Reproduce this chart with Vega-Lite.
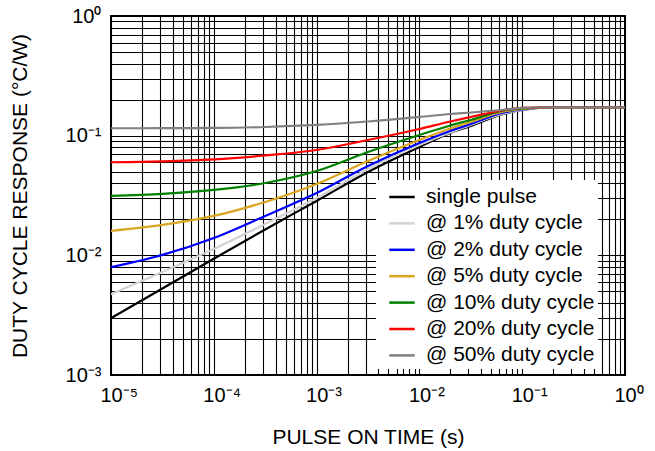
{
  "$schema": "https://vega.github.io/schema/vega-lite/v6.json",
  "width": 514,
  "height": 359,
  "autosize": {"type": "none"},
  "padding": {"left": 111, "top": 16, "right": 30, "bottom": 76},
  "background": "white",
  "config": {"view": {"stroke": "black", "strokeWidth": 2}, "font": "Liberation Sans"},
  "data": {"values": [
    {"s": "single pulse", "t": 0.00001, "z": 0.002982},
    {"s": "single pulse", "t": 0.000031623, "z": 0.00529},
    {"s": "single pulse", "t": 0.0001, "z": 0.009367},
    {"s": "single pulse", "t": 0.00031623, "z": 0.01646},
    {"s": "single pulse", "t": 0.001, "z": 0.02848},
    {"s": "single pulse", "t": 0.0031623, "z": 0.04973},
    {"s": "single pulse", "t": 0.01, "z": 0.08047},
    {"s": "single pulse", "t": 0.019953, "z": 0.1054},
    {"s": "single pulse", "t": 0.031623, "z": 0.1205},
    {"s": "single pulse", "t": 0.063096, "z": 0.1503},
    {"s": "single pulse", "t": 0.1, "z": 0.1639},
    {"s": "single pulse", "t": 0.19953, "z": 0.1727},
    {"s": "single pulse", "t": 1, "z": 0.1727},
    {"s": "@ 1% duty cycle", "t": 0.00001, "z": 0.004732},
    {"s": "@ 1% duty cycle", "t": 0.000031623, "z": 0.007264},
    {"s": "@ 1% duty cycle", "t": 0.0001, "z": 0.01131},
    {"s": "@ 1% duty cycle", "t": 0.00031623, "z": 0.01829},
    {"s": "@ 1% duty cycle", "t": 0.001, "z": 0.03016},
    {"s": "@ 1% duty cycle", "t": 0.0031623, "z": 0.05269},
    {"s": "@ 1% duty cycle", "t": 0.01, "z": 0.0836},
    {"s": "@ 1% duty cycle", "t": 0.019953, "z": 0.1063},
    {"s": "@ 1% duty cycle", "t": 0.031623, "z": 0.1229},
    {"s": "@ 1% duty cycle", "t": 0.063096, "z": 0.1518},
    {"s": "@ 1% duty cycle", "t": 0.1, "z": 0.1639},
    {"s": "@ 1% duty cycle", "t": 0.19953, "z": 0.1727},
    {"s": "@ 1% duty cycle", "t": 1, "z": 0.1727},
    {"s": "@ 2% duty cycle", "t": 0.00001, "z": 0.007955},
    {"s": "@ 2% duty cycle", "t": 0.000031623, "z": 0.01008},
    {"s": "@ 2% duty cycle", "t": 0.0001, "z": 0.01398},
    {"s": "@ 2% duty cycle", "t": 0.00031623, "z": 0.02134},
    {"s": "@ 2% duty cycle", "t": 0.001, "z": 0.0332},
    {"s": "@ 2% duty cycle", "t": 0.0031623, "z": 0.05582},
    {"s": "@ 2% duty cycle", "t": 0.01, "z": 0.0869},
    {"s": "@ 2% duty cycle", "t": 0.019953, "z": 0.1095},
    {"s": "@ 2% duty cycle", "t": 0.031623, "z": 0.1252},
    {"s": "@ 2% duty cycle", "t": 0.063096, "z": 0.1547},
    {"s": "@ 2% duty cycle", "t": 0.1, "z": 0.1655},
    {"s": "@ 2% duty cycle", "t": 0.19953, "z": 0.1727},
    {"s": "@ 2% duty cycle", "t": 1, "z": 0.1727},
    {"s": "@ 5% duty cycle", "t": 0.00001, "z": 0.01599},
    {"s": "@ 5% duty cycle", "t": 0.000031623, "z": 0.01794},
    {"s": "@ 5% duty cycle", "t": 0.0001, "z": 0.02134},
    {"s": "@ 5% duty cycle", "t": 0.00031623, "z": 0.02793},
    {"s": "@ 5% duty cycle", "t": 0.001, "z": 0.03949},
    {"s": "@ 5% duty cycle", "t": 0.0031623, "z": 0.06145},
    {"s": "@ 5% duty cycle", "t": 0.01, "z": 0.09206},
    {"s": "@ 5% duty cycle", "t": 0.019953, "z": 0.1149},
    {"s": "@ 5% duty cycle", "t": 0.031623, "z": 0.1301},
    {"s": "@ 5% duty cycle", "t": 0.063096, "z": 0.1578},
    {"s": "@ 5% duty cycle", "t": 0.1, "z": 0.1671},
    {"s": "@ 5% duty cycle", "t": 0.19953, "z": 0.1727},
    {"s": "@ 5% duty cycle", "t": 1, "z": 0.1727},
    {"s": "@ 10% duty cycle", "t": 0.00001, "z": 0.03134},
    {"s": "@ 10% duty cycle", "t": 0.000031623, "z": 0.03258},
    {"s": "@ 10% duty cycle", "t": 0.0001, "z": 0.03518},
    {"s": "@ 10% duty cycle", "t": 0.00031623, "z": 0.04025},
    {"s": "@ 10% duty cycle", "t": 0.001, "z": 0.0507},
    {"s": "@ 10% duty cycle", "t": 0.0031623, "z": 0.07306},
    {"s": "@ 10% duty cycle", "t": 0.01, "z": 0.1013},
    {"s": "@ 10% duty cycle", "t": 0.019953, "z": 0.1217},
    {"s": "@ 10% duty cycle", "t": 0.031623, "z": 0.1353},
    {"s": "@ 10% duty cycle", "t": 0.063096, "z": 0.1608},
    {"s": "@ 10% duty cycle", "t": 0.1, "z": 0.1687},
    {"s": "@ 10% duty cycle", "t": 0.19953, "z": 0.1727},
    {"s": "@ 10% duty cycle", "t": 1, "z": 0.1727},
    {"s": "@ 20% duty cycle", "t": 0.00001, "z": 0.05995},
    {"s": "@ 20% duty cycle", "t": 0.000031623, "z": 0.06088},
    {"s": "@ 20% duty cycle", "t": 0.0001, "z": 0.06326},
    {"s": "@ 20% duty cycle", "t": 0.00031623, "z": 0.06833},
    {"s": "@ 20% duty cycle", "t": 0.001, "z": 0.07595},
    {"s": "@ 20% duty cycle", "t": 0.0031623, "z": 0.09206},
    {"s": "@ 20% duty cycle", "t": 0.01, "z": 0.1138},
    {"s": "@ 20% duty cycle", "t": 0.019953, "z": 0.1314},
    {"s": "@ 20% duty cycle", "t": 0.031623, "z": 0.1433},
    {"s": "@ 20% duty cycle", "t": 0.063096, "z": 0.1624},
    {"s": "@ 20% duty cycle", "t": 0.1, "z": 0.1704},
    {"s": "@ 20% duty cycle", "t": 0.19953, "z": 0.1727},
    {"s": "@ 20% duty cycle", "t": 1, "z": 0.1727},
    {"s": "@ 50% duty cycle", "t": 0.00001, "z": 0.1153},
    {"s": "@ 50% duty cycle", "t": 0.000031623, "z": 0.1155},
    {"s": "@ 50% duty cycle", "t": 0.0001, "z": 0.116},
    {"s": "@ 50% duty cycle", "t": 0.00031623, "z": 0.1182},
    {"s": "@ 50% duty cycle", "t": 0.001, "z": 0.1229},
    {"s": "@ 50% duty cycle", "t": 0.0031623, "z": 0.1314},
    {"s": "@ 50% duty cycle", "t": 0.01, "z": 0.1433},
    {"s": "@ 50% duty cycle", "t": 0.019953, "z": 0.1518},
    {"s": "@ 50% duty cycle", "t": 0.031623, "z": 0.1562},
    {"s": "@ 50% duty cycle", "t": 0.063096, "z": 0.1639},
    {"s": "@ 50% duty cycle", "t": 0.1, "z": 0.1704},
    {"s": "@ 50% duty cycle", "t": 0.19953, "z": 0.1727},
    {"s": "@ 50% duty cycle", "t": 1, "z": 0.1727}
  ]},
  "mark": {"type": "line", "strokeWidth": 2.2, "interpolate": "monotone", "clip": true},
  "encoding": {
    "x": {
      "field": "t", "type": "quantitative",
      "scale": {"type": "log", "domain": [0.00001, 1], "nice": false},
      "axis": {
        "title": "PULSE ON TIME (s)",
        "titleFontSize": 21, "titleFontWeight": "normal", "titleColor": "black", "titlePadding": 21,
        "values": [0.00001,0.00002,0.00003,0.00004,0.00005,0.00006,0.00007,0.00008,0.00009,0.0001,0.0002,0.0003,0.0004,0.0005,0.0006,0.0007,0.0008,0.0009,0.001,0.002,0.003,0.004,0.005,0.006,0.007,0.008,0.009,0.01,0.02,0.03,0.04,0.05,0.06,0.07,0.08,0.09,0.1,0.2,0.3,0.4,0.5,0.6,0.7,0.8,0.9,1],
        "labelExpr": "datum.value==0.00001?'10⁻⁵':datum.value==0.0001?'10⁻⁴':datum.value==0.001?'10⁻³':datum.value==0.01?'10⁻²':datum.value==0.1?'10⁻¹':datum.value==1?'10⁰':''",
        "labelFontSize": 20, "labelColor": "black", "labelPadding": 10, "labelOverlap": false, "labelFlush": false,
        "labelAlign": "left", "labelOffset": -11,
        "ticks": false, "domain": false,
        "grid": true, "gridColor": "black", "gridOpacity": 1, "gridWidth": 1.1
      }
    },
    "y": {
      "field": "z", "type": "quantitative",
      "scale": {"type": "log", "domain": [0.001, 1], "nice": false},
      "axis": {
        "title": "DUTY CYCLE RESPONSE (°C/W)",
        "titleFontSize": 21, "titleFontWeight": "normal", "titleColor": "black", "titlePadding": 35,
        "values": [0.001,0.002,0.003,0.004,0.005,0.006,0.007,0.008,0.009,0.01,0.02,0.03,0.04,0.05,0.06,0.07,0.08,0.09,0.1,0.2,0.3,0.4,0.5,0.6,0.7,0.8,0.9,1],
        "labelExpr": "datum.value==0.001?'10⁻³':datum.value==0.01?'10⁻²':datum.value==0.1?'10⁻¹':datum.value==1?'10⁰':''",
        "labelFontSize": 20, "labelColor": "black", "labelPadding": 10, "labelOverlap": false, "labelFlush": false,
        "ticks": false, "domain": false,
        "grid": true, "gridColor": "black", "gridOpacity": 1, "gridWidth": 1.1
      }
    },
    "color": {
      "field": "s", "type": "nominal",
      "scale": {
        "domain": ["single pulse", "@ 1% duty cycle", "@ 2% duty cycle", "@ 5% duty cycle", "@ 10% duty cycle", "@ 20% duty cycle", "@ 50% duty cycle"],
        "range": ["#000000", "#d3d3d3", "#0000ff", "#daa520", "#008000", "#ff0000", "#808080"]
      },
      "legend": {
        "title": null, "orient": "none", "legendX": 265, "legendY": 164,
        "fillColor": "white", "padding": 3,
        "symbolType": "stroke", "symbolSize": 650, "symbolStrokeWidth": 2.5, "symbolOffset": 9,
        "labelFontSize": 21, "labelColor": "black", "labelOffset": 10, "labelLimit": 300,
        "rowPadding": 2.4
      }
    }
  }
}
